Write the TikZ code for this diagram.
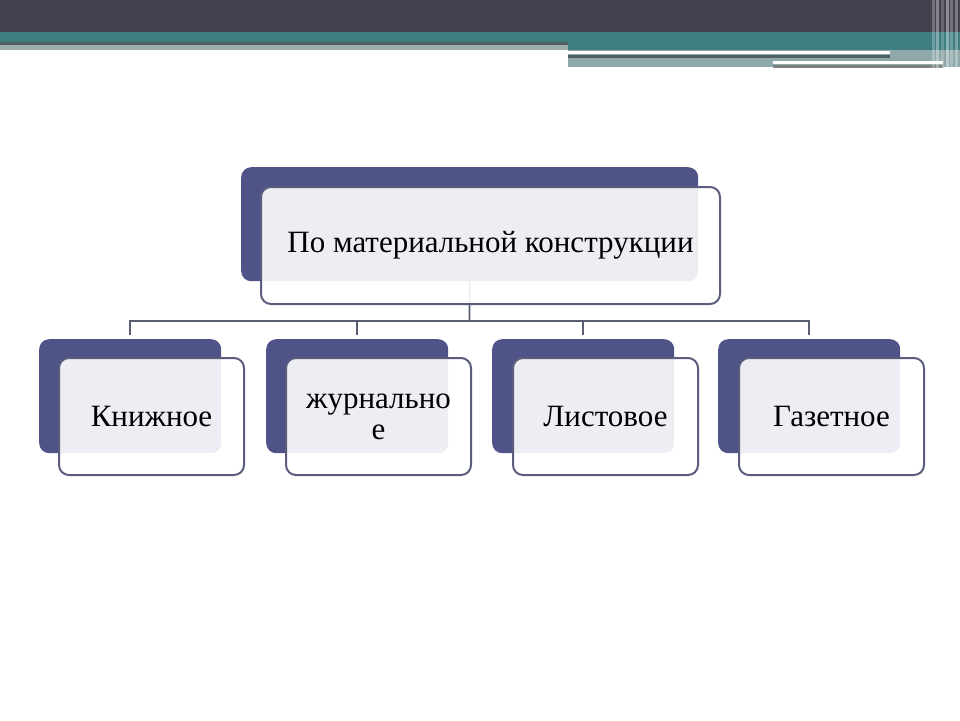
\documentclass[tikz,border=0pt]{standalone}
\usepackage{fontspec}
\setmainfont{Liberation Serif}
\definecolor{hdark}{HTML}{42434F}
\definecolor{hteal}{HTML}{3E7E80}
\definecolor{hteallt}{HTML}{8FA8AA}
\definecolor{hline}{HTML}{4F5F62}
\definecolor{boxdark}{HTML}{505388}
\definecolor{boxedge}{HTML}{5A5E7C}
\definecolor{connc}{HTML}{5A5E72}
\tikzset{
  backbox/.style={fill=boxdark, draw=none, rounded corners=10pt, anchor=north west, inner sep=0pt},
  frontbox/.style={fill=white, fill opacity=0.9, text opacity=1, draw=boxedge, line width=2pt, rounded corners=10pt, anchor=north west, inner sep=0pt, align=center, text=black},
  bigtext/.style={font=\fontsize{31}{36}\selectfont},
  smalltext/.style={font=\fontsize{31}{31}\selectfont},
  conn/.style={draw=connc, line width=1.8pt},
}
\begin{document}
\begin{tikzpicture}[x=1pt,y=-1pt]
\useasboundingbox (0,0) rectangle (960,720);
\fill[white] (0,0) rectangle (960,720);
% header
\fill[hdark] (0,0) rectangle (960,32);
\fill[hteal] (0,32) rectangle (960,42);
\fill[hline] (0,42) rectangle (568,45);
\fill[black!30!hteallt!60!white] (0,45) rectangle (568,50);
\fill[hteal] (568,42) rectangle (960,50);
\fill[hteallt] (568,50) rectangle (960,67);
\fill[white] (568,51) rectangle (890,54);
\fill[hline] (568,55) rectangle (890,58);
\fill[white] (773,61) rectangle (943,64);
\fill[gray] (773,65) rectangle (943,68);
\foreach \xx/\op in {932/0.25,936/0.35,941/0.2,946/0.4,950/0.25,955/0.3}
  \fill[white,opacity=\op] (\xx,0) rectangle (\xx+2.5,70);
% back boxes
\node[backbox, minimum width=457pt, minimum height=114pt] (d0) at (241,167) {};
\node[backbox, minimum width=182pt, minimum height=114pt] (d1) at (39,339) {};
\node[backbox, minimum width=182pt, minimum height=114pt] (d2) at (266,339) {};
\node[backbox, minimum width=182pt, minimum height=114pt] (d3) at (492,339) {};
\node[backbox, minimum width=182pt, minimum height=114pt] (d4) at (718,339) {};
% connectors
\coordinate (bus) at (469.5,321);
\draw[conn] (d0.south) -- (bus);
\draw[conn,shorten >=4pt] (bus) -| (d1.north);
\draw[conn,shorten >=4pt] (bus) -| (d2.north);
\draw[conn,shorten >=4pt] (bus) -| (d3.north);
\draw[conn,shorten >=4pt] (bus) -| (d4.north);
% front boxes
\node[frontbox, bigtext, minimum width=459pt, minimum height=117pt] (f0) at (260,186) {По материальной конструкции};
\node[frontbox, smalltext, minimum width=185pt, minimum height=117pt] (f1) at (58,357) {Книжное};
\node[frontbox, smalltext, minimum width=185pt, minimum height=117pt] (f2) at (285,357) {журнально\\е};
\node[frontbox, smalltext, minimum width=185pt, minimum height=117pt] (f3) at (512,357) {Листовое};
\node[frontbox, smalltext, minimum width=185pt, minimum height=117pt] (f4) at (738,357) {Газетное};
\end{tikzpicture}
\end{document}
